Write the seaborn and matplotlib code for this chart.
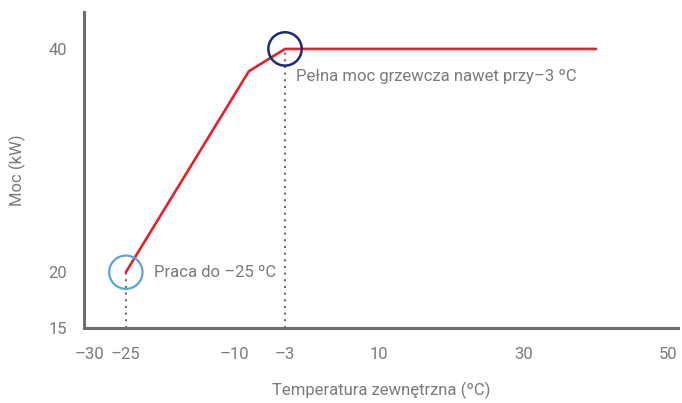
import matplotlib
matplotlib.use("Agg")
import matplotlib.pyplot as plt
import seaborn as sns
import pandas as pd

# data
temp = [-25, -8, -3, 40]
power = [20, 38, 40, 40]
xticks = [-30, -25, -10, -3, 10, 30, 50]
yticks = [15, 20, 40]

df = pd.DataFrame({"temp": temp, "power": power})

sns.set_style("white")
plt.rcParams['font.family'] = ['Roboto', 'DejaVu Sans']

grey = "#6e6e6e"
txt = "#7a7a7a"

fig = plt.figure(figsize=(6.82, 4.03), dpi=100)
ax = fig.add_axes([0.123, 0.186, 0.871, 0.784])

# dotted guides
ax.plot([-25, -25], [15, 20], ls=(0, (1, 2.2)), color=grey, lw=1.5, zorder=1)
ax.plot([-3, -3], [15, 40], ls=(0, (1, 2.2)), color=grey, lw=1.5, zorder=1)

sns.lineplot(data=df, x="temp", y="power", color="#e8202a", lw=1.9, ax=ax, zorder=2)

# highlight circles
ax.scatter([-25], [20], s=24**2, facecolors="none", edgecolors="#5aa5d6", linewidths=1.6, zorder=3)
ax.scatter([-3], [40], s=24**2, facecolors="none", edgecolors="#1c2a78", linewidths=1.8, zorder=3)

ax.text(-21.1, 20, "Praca do \u201325 \u00baC", color=txt, fontsize=12, va="center", ha="left")
ax.text(-1.5, 37.5, "Pe\u0142na moc grzewcza nawet przy\u20133 \u00baC", color=txt, fontsize=12, va="center", ha="left")

ax.set_xlim(-30.8, 51.3)
ax.set_ylim(15, 43.3)
ax.set_xticks(xticks)
ax.set_xticklabels([str(v).replace("-", "\u2013") for v in xticks])
ax.set_yticks(yticks)
ax.tick_params(axis="x", length=0, labelsize=12, labelcolor=txt, pad=14)
ax.tick_params(axis="y", length=0, labelsize=12, labelcolor=txt, pad=12)

ax.set_xlabel("Temperatura zewn\u0119trzna (\u00baC)", fontsize=12, color=txt, labelpad=14)
ax.set_ylabel("Moc (kW)", fontsize=12, color=txt, labelpad=16)

for s in ["top", "right"]:
    ax.spines[s].set_visible(False)
for s in ["left", "bottom"]:
    ax.spines[s].set_color(grey)
    ax.spines[s].set_linewidth(2.2)

fig.savefig("out.png", dpi=100)
